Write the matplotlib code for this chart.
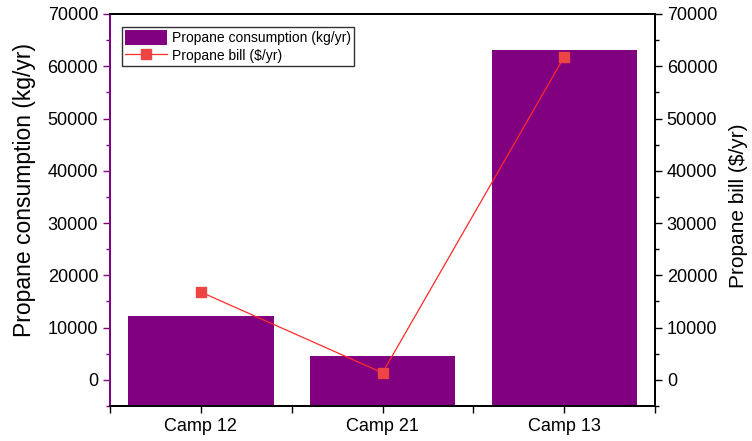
import matplotlib.pyplot as plt
from matplotlib.ticker import MultipleLocator

plt.rcParams["font.family"] = ["Liberation Sans", "DejaVu Sans"]

camps = ["Camp 12", "Camp 21", "Camp 13"]
consumption = [12300, 4600, 63200]  # kg/yr
bill = [16800, 1350, 61800]  # $/yr

Y_MIN, Y_MAX = -5000, 70000
PURPLE = "#800080"
RED = "#ff2a2a"

fig = plt.figure(figsize=(7.52, 4.41), dpi=100)
ax = fig.add_axes([110 / 752, 1 - 406 / 441, 545 / 752, 392 / 441])
ax2 = ax.twinx()

x = list(range(len(camps)))
# bars are filled from the bottom of the axis, as in the original
ax.bar(x, [c - Y_MIN for c in consumption], bottom=Y_MIN, width=0.8, color=PURPLE,
       label="Propane consumption (kg/yr)", zorder=2)
ax2.plot(x, bill, color=RED, lw=0.9, marker="s", ms=7, mfc="#ee4444", mec="#ee4444",
         label="Propane bill ($/yr)", zorder=3)

for a in (ax, ax2):
    a.set_ylim(Y_MIN, Y_MAX)
    a.yaxis.set_major_locator(MultipleLocator(10000))
    a.yaxis.set_minor_locator(MultipleLocator(5000))
ax.set_xlim(-0.5, 2.5)
ax.set_xticks(x)
ax.set_xticklabels(camps)
ax.set_xticks([-0.5, 0.5, 1.5, 2.5], minor=True)

ax.tick_params(axis="x", which="major", direction="out", length=5, width=1, labelsize=13)
ax.tick_params(axis="x", which="minor", direction="out", length=5, width=1)
ax.tick_params(axis="y", which="major", direction="out", length=5, width=1, labelsize=13,
               color=PURPLE)
ax.tick_params(axis="y", which="minor", direction="out", length=3, width=1, color=PURPLE)
ax2.tick_params(axis="y", which="major", direction="out", length=5, width=1, labelsize=13)
ax2.tick_params(axis="y", which="minor", direction="out", length=3, width=1)

# top edge: inward ticks without labels, drawn by the twin (shares x)
ax2.tick_params(axis="x", which="major", top=True, bottom=False, labeltop=False,
                labelbottom=False, direction="in", length=6, width=1)
ax2.tick_params(axis="x", which="minor", top=True, bottom=False, direction="in",
                length=3, width=1)

for s in ("top", "bottom", "right"):
    ax.spines[s].set_linewidth(1.3)
    ax2.spines[s].set_linewidth(1.3)
ax.spines["left"].set_color(PURPLE)
ax2.spines["left"].set_color(PURPLE)
ax.spines["left"].set_linewidth(1.3)
ax2.spines["left"].set_linewidth(1.3)

ax.set_ylabel("Propane consumption (kg/yr)", fontsize=16.5)
ax.yaxis.set_label_coords(-0.135, 0.55)
ax2.set_ylabel("Propane bill ($/yr)", fontsize=15)
ax2.yaxis.set_label_coords(1.135, 0.51)

h1, l1 = ax.get_legend_handles_labels()
h2, l2 = ax2.get_legend_handles_labels()
leg = ax2.legend(h1 + h2, l1 + l2, loc="upper left", bbox_to_anchor=(0.022, 0.967),
                 fontsize=10, frameon=True, fancybox=False, edgecolor="#333333",
                 framealpha=1, borderpad=0.25, labelspacing=0.2, handlelength=3.0,
                 handleheight=1.2, handletextpad=0.35, borderaxespad=0)
leg.get_frame().set_linewidth(1)

fig.savefig("out.png", dpi=100)
